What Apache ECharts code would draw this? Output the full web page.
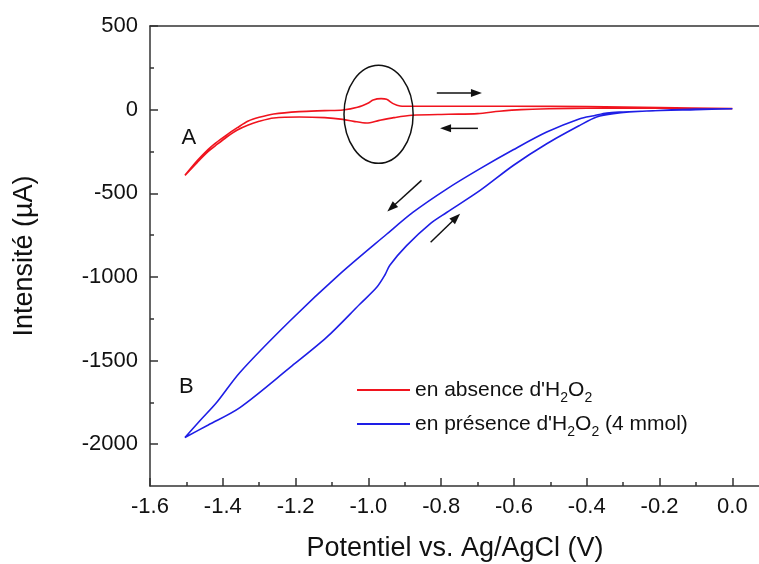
<!DOCTYPE html>
<html><head><meta charset="utf-8">
<script src="https://cdn.jsdelivr.net/npm/echarts@6/dist/echarts.min.js"></script>
<style>html,body{margin:0;padding:0;background:#fff}#c{width:759px;height:564px}</style>
</head><body><div id="c"></div>
<script>
// ---- tick values ----
const xMajorTicks = [-1.6, -1.4, -1.2, -1.0, -0.8, -0.6, -0.4, -0.2, 0.0];
const xMinorTicks = [-1.5, -1.3, -1.1, -0.9, -0.7, -0.5, -0.3, -0.1];
const yMajorTicks = [-2000, -1500, -1000, -500, 0, 500];
const yMinorTicks = [-1750, -1250, -750, -250, 250];

// ---- series A : en absence d'H2O2 (sweep 0 -> -1.5 V -> 0) ----
const absencePotential = [0, -0.1, -0.2, -0.3, -0.4, -0.5, -0.58, -0.64, -0.70, -0.78, -0.88, -0.93, -0.97, -1.005, -1.04, -1.07, -1.12, -1.19, -1.26, -1.30, -1.33, -1.36, -1.39, -1.42, -1.44, -1.47, -1.504,
  -1.47, -1.44, -1.42, -1.39, -1.36, -1.33, -1.30, -1.26, -1.19, -1.12, -1.07, -1.03, -1.0, -0.987, -0.965, -0.95, -0.932, -0.913, -0.88, -0.8, -0.6, -0.4, -0.2, 0];
const absenceCurrent = [6, 8, 8, 8, 8, 5, 0, -10, -24, -28, -34, -48, -64, -80, -70, -58, -48, -44, -50, -70, -92, -122, -165, -215, -250, -315, -393,
  -305, -238, -200, -152, -108, -68, -46, -26, -12, -6, -2, 14, 40, 58, 66, 62, 36, 22, 20, 20, 20, 18, 12, 6];

// ---- series B : en présence d'H2O2 (4 mmol) ----
const presencePotential = [0, -0.1, -0.235, -0.3, -0.345, -0.38, -0.419, -0.51, -0.602, -0.693, -0.785, -0.877, -0.95, -1.078, -1.215, -1.353, -1.417, -1.463, -1.504,
  -1.44, -1.353, -1.215, -1.115, -1.023, -0.977, -0.955, -0.941, -0.895, -0.829, -0.785, -0.693, -0.602, -0.51, -0.419, -0.373, -0.327, -0.235, -0.1, 0];
const presenceCurrent = [5, 3, -8, -14, -20, -36, -54, -134, -240, -353, -475, -613, -745, -982, -1262, -1571, -1751, -1860, -1960,
  -1885, -1781, -1541, -1362, -1162, -1062, -990, -930, -813, -680, -615, -483, -334, -204, -94, -44, -24, -8, 0, 5];

// ---- annotations (data coordinates) ----
const arrowSegments = [[-0.812, 100, -0.688, 100], [-0.699, -112, -0.803, -112], [-0.854, -423, -0.948, -609], [-0.829, -793, -0.748, -623]];
const circleAnnotation = {center: [-0.972, -28], radius: [0.095, 293]};
const textAnnotations = [{text: 'A', at: [-1.493, -172]}, {text: 'B', at: [-1.5, -1657]}];

const seriesNames = ["en absence d'H2O2", "en présence d'H2O2 (4 mmol)"];
const legendLabels = ["en absence d'H{sub|2}O{sub|2}", "en présence d'H{sub|2}O{sub|2} (4 mmol)"];
const FONT = 'Liberation Sans, Arial, sans-serif';
const AX = '#333';
const RED = '#f0141e', BLUE = '#1e1ee6';

function zip(a, b) { return a.map((v, i) => [v, b[i]]); }

const legendBase = (name, label, top) => ({
  data: [name], left: 357, top: top, orient: 'vertical', padding: 0,
  icon: 'rect', itemWidth: 53, itemHeight: 2,
  formatter: () => label,
  textStyle: {fontSize: 21, color: '#111', fontFamily: FONT, lineHeight: 30,
    rich: {sub: {fontSize: 14, lineHeight: 12, verticalAlign: 'bottom', fontFamily: FONT, color: '#111'}}}
});

const option = {
  animation: false,
  backgroundColor: '#fff',
  grid: {left: 150, top: 26, right: -1, bottom: 78, outerBoundsMode: 'none', containLabel: false},
  xAxis: [
    {type: 'value', min: -1.6, max: 0.076, position: 'bottom',
     axisLine: {show: true, onZero: false, lineStyle: {color: AX, width: 1.5}},
     axisTick: {show: true, inside: true, length: 8, customValues: xMajorTicks, lineStyle: {color: AX, width: 1.5}},
     axisLabel: {customValues: xMajorTicks, formatter: v => v.toFixed(1), fontSize: 22, margin: 10, color: '#111', fontFamily: FONT},
     splitLine: {show: false},
     name: 'Potentiel vs. Ag/AgCl (V)', nameLocation: 'middle', nameGap: 49,
     nameTextStyle: {fontSize: 27, color: '#111', fontFamily: FONT}},
    {type: 'value', min: -1.6, max: 0.076, position: 'bottom',
     axisLine: {show: false, onZero: false},
     axisTick: {show: true, inside: true, length: 4, customValues: xMinorTicks, lineStyle: {color: AX, width: 1.5}},
     axisLabel: {show: false}, splitLine: {show: false}},
    {type: 'value', min: -1.6, max: 0.076, position: 'top',
     axisLine: {show: true, onZero: false, lineStyle: {color: AX, width: 1.5}},
     axisTick: {show: false}, axisLabel: {show: false}, splitLine: {show: false}}
  ],
  yAxis: [
    {type: 'value', min: -2250, max: 500, position: 'left',
     axisLine: {show: true, onZero: false, lineStyle: {color: AX, width: 1.5}},
     axisTick: {show: true, inside: true, length: 8, customValues: yMajorTicks, lineStyle: {color: AX, width: 1.5}},
     axisLabel: {customValues: yMajorTicks, formatter: v => String(v), fontSize: 22, margin: 12, color: '#111', fontFamily: FONT},
     splitLine: {show: false},
     name: 'Intensité (µA)', nameLocation: 'middle', nameGap: 112,
     nameTextStyle: {fontSize: 27, color: '#111', fontFamily: FONT}},
    {type: 'value', min: -2250, max: 500, position: 'left',
     axisLine: {show: false, onZero: false},
     axisTick: {show: true, inside: true, length: 4, customValues: yMinorTicks, lineStyle: {color: AX, width: 1.5}},
     axisLabel: {show: false}, splitLine: {show: false}}
  ],
  legend: [
    legendBase(seriesNames[0], legendLabels[0], 375),
    legendBase(seriesNames[1], legendLabels[1], 409)
  ],
  series: [
    {name: seriesNames[0], type: 'line', xAxisIndex: 0, yAxisIndex: 0, data: zip(absencePotential, absenceCurrent),
     showSymbol: false, symbol: 'none', smooth: 0.3, color: RED, lineStyle: {color: RED, width: 1.6}},
    {name: seriesNames[1], type: 'line', xAxisIndex: 0, yAxisIndex: 0, data: zip(presencePotential, presenceCurrent),
     showSymbol: false, symbol: 'none', smooth: 0.3, color: BLUE, lineStyle: {color: BLUE, width: 1.6}}
  ]
};

const chart = echarts.init(document.getElementById('c'), null, {renderer: 'canvas'});
chart.setOption(option);

const toPx = p => chart.convertToPixel({xAxisIndex: 0, yAxisIndex: 0}, p);
const graphics = [];
// ellipse
const c0 = toPx(circleAnnotation.center);
const cx1 = toPx([circleAnnotation.center[0] + circleAnnotation.radius[0], circleAnnotation.center[1]]);
const cy1 = toPx([circleAnnotation.center[0], circleAnnotation.center[1] + circleAnnotation.radius[1]]);
graphics.push({type: 'ellipse', silent: true, shape: {cx: c0[0], cy: c0[1], rx: Math.abs(cx1[0] - c0[0]), ry: Math.abs(cy1[1] - c0[1])},
  style: {fill: 'none', stroke: '#111', lineWidth: 1.5}, z: 10});
// arrows
arrowSegments.forEach(s => {
  const a = toPx([s[0], s[1]]), b = toPx([s[2], s[3]]);
  const dx = b[0] - a[0], dy = b[1] - a[1], L = Math.hypot(dx, dy);
  const ux = dx / L, uy = dy / L, hl = 11, hw = 4;
  const bx = b[0] - ux * hl, by = b[1] - uy * hl;
  graphics.push({type: 'line', silent: true, shape: {x1: a[0], y1: a[1], x2: bx + ux * 1, y2: by + uy * 1},
    style: {stroke: '#111', lineWidth: 1.5}, z: 10});
  graphics.push({type: 'polygon', silent: true, shape: {points: [[b[0], b[1]], [bx - uy * hw, by + ux * hw], [bx + uy * hw, by - ux * hw]]},
    style: {fill: '#111'}, z: 10});
});
// text labels
textAnnotations.forEach(t => {
  const p = toPx(t.at);
  graphics.push({type: 'text', silent: true, x: p[0], y: p[1],
    style: {text: t.text, fill: '#111', font: '22px ' + FONT, align: 'center', verticalAlign: 'middle'}, z: 10});
});
chart.setOption({graphic: graphics});
</script>
</body></html>
